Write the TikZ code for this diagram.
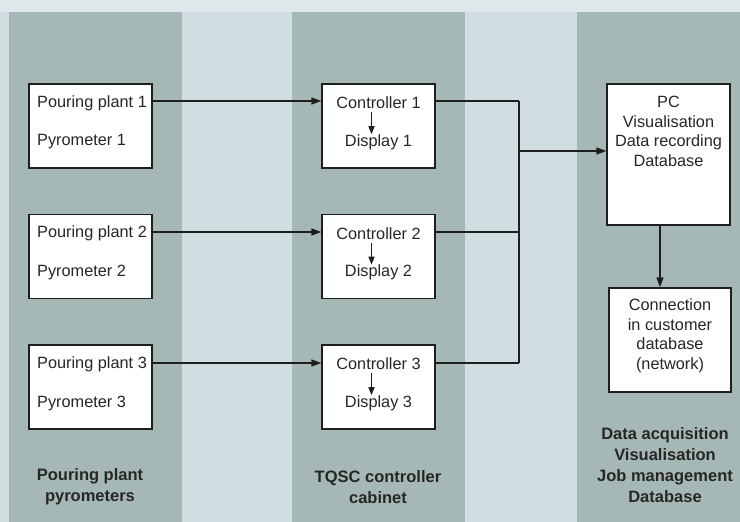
\documentclass[tikz,border=0pt]{standalone}
\usepackage{fontspec}
\setmainfont{Liberation Sans}
\usetikzlibrary{arrows.meta}
\definecolor{bgc}{HTML}{D0DEE1}
\definecolor{colc}{HTML}{A6B8B5}
\definecolor{linec}{HTML}{1E1E1E}
\begin{document}
\begin{tikzpicture}[x=1pt,y=-1pt,
  box/.style={draw=linec,line width=1.4pt,fill=white,inner sep=0pt},
  txt/.style={font=\fontsize{16.3}{19.5}\selectfont,inner sep=0pt,text=black!85},
  lbl/.style={font=\fontsize{16.5}{21}\selectfont\bfseries,align=center,inner sep=0pt,text=black!85},
  conn/.style={draw=linec,line width=1.4pt},
  arr/.style={conn,-{Triangle[length=10pt,width=7pt]}},
  sarr/.style={conn,-{Triangle[length=8pt,width=6pt]}}]
\useasboundingbox (0,0) rectangle (740,522);
% background
\fill[bgc] (0,0) rectangle (740,522);
\fill[bgc!70!white] (0,0) rectangle (740,12);
\fill[colc] (9,12) rectangle (182,522);
\fill[colc] (292,12) rectangle (465,522);
\fill[colc] (577,12) rectangle (740,522);
% pouring plant and controller boxes
\foreach \i/\y in {1/126,2/256.5,3/387}{
  \node[box,minimum width=123pt,minimum height=84pt] (p\i) at (90.5,\y) {};
  \node[txt,anchor=west] (p\i a) at (37,\y-23) {Pouring plant \i};
  \node[txt,anchor=west] (p\i b) at (37,\y+16) {Pyrometer \i};
  \node[box,minimum width=113pt,minimum height=84pt] (c\i) at (378.5,\y) {};
  \node[txt] (c\i a) at (378.5,\y-23) {Controller \i};
  \node[txt] (c\i b) at (378.5,\y+16) {Display \i};
}
% PC and connection
\node[box,minimum width=123pt,minimum height=141pt] (pc) at (668.5,154.5) {};
\node[txt,align=center,anchor=north] (pct) at (668.5,96)
  {PC\\Visualisation\\Data recording\\Database};
\node[box,minimum width=122pt,minimum height=104pt] (cn) at (670,340) {};
\node[txt,align=center] (cnt) at (670,336)
  {Connection\\in customer\\database\\(network)};
% bottom labels
\node[lbl] (l1) at (90,487) {Pouring plant\\pyrometers};
\node[lbl] (l2) at (378,487) {TQSC controller\\cabinet};
\node[lbl] (l3) at (665,465) {Data acquisition\\Visualisation\\Job management\\Database};
% connectors
\coordinate (bus) at (519,101);
\coordinate (bus3) at (519,363);
\coordinate (busm) at (519,151);
\foreach \i/\y in {1/101,2/232,3/363}{
  \draw[arr] (p\i.east |- 0,\y) -- (c\i.west |- 0,\y);
  \draw[conn] (c\i.east |- 0,\y) -- (bus |- 0,\y);
  \draw[sarr] ([xshift=-7pt]c\i.center |- c\i a.south) ++(0,3) -- ([xshift=-7pt]c\i.center |- c\i b.north);
}
\draw[conn] (bus) -- (bus3);
\draw[arr] (busm) -- (pc.west |- busm);
\draw[arr] (pc.south -| 660,0) -- (cn.north -| 660,0);
\end{tikzpicture}
\end{document}
